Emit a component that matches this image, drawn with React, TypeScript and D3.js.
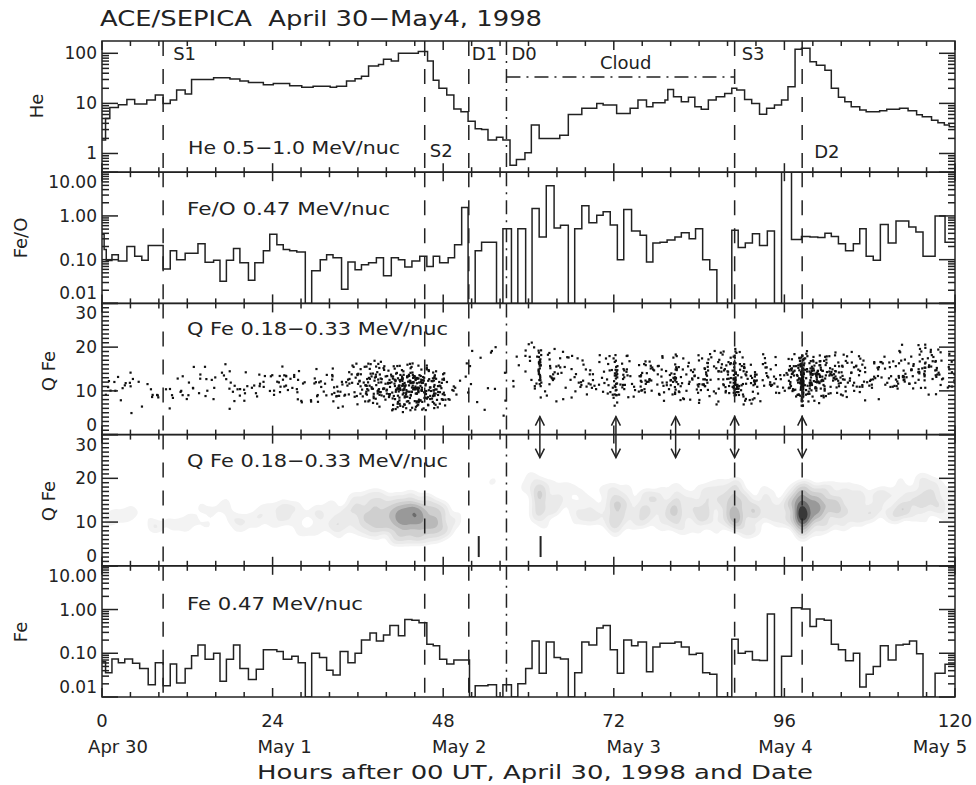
import React from 'react';
import * as d3 from 'd3';

const W = 976, H = 785;
const X0 = 102, X1 = 955;
const TOP = 41, PH = 131.2;
const FONT = 'DejaVu Sans, Verdana, sans-serif';
const INK = '#222';

// He 0.5-1.0 MeV/nuc : [hour where step starts, value]
const heSteps: [number, number][] = [[0,1.85],[0.5,5.0],[1.1,8.3],[2.3,9.4],[3.5,12],[4.6,9.7],[6.3,11.7],[7.5,14.7],[8.6,10],[9.6,11.7],[10.5,18.5],[11.7,15.4],[12.6,30],[15.7,32.6],[18,30.7],[19.4,28],[20.6,26],[22.7,23.6],[24.1,25],[26.4,22.5],[28.1,21],[29.7,22],[32.1,21],[33,22],[34.4,28],[35.6,31],[36.5,35],[37.5,56],[38.9,60],[39.6,76],[40.7,70],[41.7,100],[44.5,108],[45.8,70],[46.6,29],[47.4,20],[48.5,14.7],[49.5,7.7],[50.5,6.8],[51.5,4.4],[52.5,3.1],[53.4,3.0],[54.3,1.85],[55.5,2.1],[56.4,1.85],[57.4,0.58],[58.3,0.76],[59.5,1.03],[60.4,3.7],[61.5,2.0],[64.4,2.3],[65.6,6.0],[67.5,8.0],[69.6,10],[70.5,9.3],[72.4,6.3],[74.3,8],[75.4,11.7],[76.6,8.6],[77.5,10.3],[79.2,11.7],[79.6,19],[80.4,13.5],[81.5,10.8],[82.5,13.2],[83.4,8.6],[84.3,7.6],[85.3,11.7],[86.4,13.5],[87.6,15.8],[88.6,20],[89.3,18.5],[90.4,12],[91.4,10],[92.5,6.1],[93.5,8],[94.6,9.3],[95.6,11.7],[96.5,21.5],[97.5,120],[98.4,126],[99.6,68],[100.5,58],[101.7,46],[102.6,20],[103.6,13.2],[104.5,10.8],[105.4,8.6],[106.6,7.4],[107.5,6.8],[109.4,7.1],[110.4,7.6],[112.2,8],[113.4,7.1],[114.6,5.9],[115.4,5.4],[116.7,4.6],[117.6,4.1],[118.5,3.7],[119.2,3.4]];

// Fe/O 0.47 MeV/nuc (0 = no data, drawn to the floor)
const feoSteps: [number, number][] = [[0,0.38],[0.3,0.17],[0.6,0.096],[1.4,0.13],[2.3,0.093],[3.5,0.2],[4.6,0.12],[5.6,0.097],[6.5,0.21],[8.6,0.061],[9.6,0.16],[10.5,0.1],[11.7,0.14],[13.5,0.23],[14.5,0.087],[15.7,0.097],[16.6,0.032],[17.5,0.097],[18.5,0.18],[19.4,0.085],[20.6,0.034],[21.5,0.085],[22.7,0.16],[23.6,0.38],[24.6,0.22],[25.5,0.17],[26.4,0.16],[27.4,0.15],[28.6,0],[29.5,0.056],[30.7,0.1],[31.6,0.13],[32.5,0.11],[33.7,0.021],[34.6,0.089],[35.6,0.059],[36.5,0.077],[37.5,0.085],[38.6,0.11],[39.6,0.043],[40.7,0.11],[41.7,0.1],[42.6,0.068],[43.6,0.093],[44.7,0.12],[45.7,0.07],[46.6,0.12],[47.5,0.085],[48.7,0.11],[49.6,0.22],[50.6,1.55],[51.5,0],[52.5,0.16],[53.4,0.25],[55.5,0],[56.4,0.51],[57.6,0],[58.5,0.51],[59.6,0],[60.5,1.47],[61.5,0.33],[62.5,4.9],[63.6,0.53],[64.5,0.61],[65.6,0],[66.5,0.51],[67.5,1.7],[68.5,0.7],[69.6,1.03],[70.5,1.24],[71.5,0.62],[72.5,0.1],[73.4,1.41],[74.5,0.45],[75.7,0.36],[76.6,0.089],[77.5,0.24],[78.5,0.25],[79.5,0.28],[80.6,0.33],[81.5,0.41],[82.6,0.3],[83.5,0.51],[84.5,0.1],[85.5,0.059],[86.5,0],[88.6,0.47],[89.5,0.19],[90.5,0.24],[91.5,0.39],[92.5,0.21],[93.6,0.45],[94.6,0],[95.6,20],[97,0.29],[98.4,0.34],[99.6,0.33],[100.7,0.32],[101.7,0.4],[102.6,0.34],[103.6,0.23],[104.6,0.16],[105.7,0.23],[106.6,0.51],[107.5,0.12],[108.5,0.097],[109.5,0.64],[110.6,0.24],[111.7,0.77],[113.5,0.56],[114.5,0.43],[115.5,0.12],[117.2,1.0],[118.6,0.25]];

// Fe 0.47 MeV/nuc
const feSteps: [number, number][] = [[0,0.064],[0.5,0.036],[1.4,0.074],[2.3,0.061],[3.2,0.074],[4.3,0.059],[5.3,0.045],[6.5,0.019],[7.5,0.061],[8.6,0.018],[9.6,0.057],[10.5,0.021],[11.7,0.045],[12.6,0.088],[13.5,0.155],[14.5,0.073],[15.7,0.1],[16.6,0.023],[17.5,0.073],[18.5,0.155],[19.4,0.045],[20.6,0.025],[21.7,0.043],[22.7,0.12],[24.6,0.11],[25.5,0.073],[26.7,0.085],[27.6,0.061],[28.6,0],[29.5,0.1],[30.6,0.08],[31.6,0.041],[32.5,0.032],[33.5,0.11],[34.6,0.061],[35.6,0.1],[36.5,0.2],[37.7,0.29],[38.6,0.19],[39.6,0.26],[40.5,0.43],[41.7,0.25],[42.6,0.59],[43.6,0.57],[44.6,0.5],[45.7,0.16],[46.6,0.148],[47.5,0.073],[48.5,0.057],[49.5,0.07],[51.7,0],[52.5,0.018],[54.3,0.019],[55.5,0],[56.4,0.019],[57.6,0],[58.5,0.02],[59.6,0.045],[60.5,0.19],[61.5,0.035],[62.5,0.18],[63.6,0.08],[64.5,0.074],[65.6,0],[66.5,0.036],[67.5,0.18],[68.5,0.155],[69.6,0.38],[70.5,0.43],[71.5,0.12],[72.5,0.035],[73.4,0.2],[74.5,0.148],[75.4,0.18],[76.6,0.038],[77.5,0.14],[78.5,0.17],[80.6,0.18],[81.5,0.14],[82.6,0.094],[83.6,0.1],[84.5,0.036],[85.5,0.033],[86.5,0],[88.6,0.21],[89.5,0.1],[90.5,0.11],[91.5,0.07],[92.5,0.068],[93.6,0.79],[94.6,0],[95.6,0.085],[97,1.1],[98.4,1.03],[99.6,0.41],[100.5,0.61],[101.6,0.57],[102.6,0.16],[103.6,0.12],[104.6,0.067],[105.7,0.1],[106.6,0.017],[107.5,0.033],[108.5,0.05],[109.5,0.148],[110.6,0.07],[111.7,0.155],[112.7,0.16],[113.6,0.19],[114.6,0.097],[115.5,0],[117.2,0.035],[118.6,0.056]];

// Q Fe 0.18-0.33 MeV/nuc : per 2-hour bin, number of ions, mean charge, spread
const qCount = [6,6,6,7,5,6,8,8,7,8,8,9, 14,10,8,12,18,22,35,45,65,80,75,50, 15,6,4,5,5,5,12,18,12,14,14,18, 20,18,20,22,22,22,28,30,35,35,18,15, 40,80,65,35,25,20,18,18,25,30,25,15];
const qMean = [10,10,9.5,10.5,10,10.5,10.5,11,11,11,10.5,11.5, 12,12,11,11,11,11.5,11.5,11.5,11,10.8,10.8,10.5, 11,12,14,13,14,16,15,14,13.5,13,12.5,12.5, 12.5,12.5,13,13,13,13,13,13,13,12.5,13,13, 13,13,13,13,13,13,13.5,14,15,15,15,15];
const qSd = [2,2.5,2.5,2.5,3,2.5,2.5,2.5,2.5,2.5,2.5,2.5, 2.2,2.5,2.5,2.5,2.5,2.5,2.5,2.7,2.8,2.8,2.8,2.4, 2.5,4,6,5,5,5,4,3.5,3,3,3,3, 3,3,3,3,3,3,3,3,3.2,3,3,3, 3.2,3,3,3,3,3,3,3,3,3,3,3];
// dense vertical columns of ions (at the arrowed hours)
const colHours = [61.6, 72.3, 80.7, 89.0, 98.5];
const colCount = [28, 24, 14, 30, 60];
const colMean = [15.5, 12.5, 13, 13.5, 12.5];
const colSd = [3.5, 2.8, 3, 3, 3];

const eventNames = ['S1', 'S2', 'D1', 'D0', 'S3', 'D2'];
const eventHours = [8.6, 45.4, 51.6, 56.9, 89.0, 98.5];
const arrowHours = [61.6, 72.3, 80.7, 89.0, 98.5];
const markHours = [53.0, 61.7];
const cloudHours = [56.9, 89.0];
const xLabelHours = [0, 24, 48, 72, 96, 120];
const dateLabels = ['Apr 30', 'May 1', 'May 2', 'May 3', 'May 4', 'May 5'];
const heLabelVals = [1, 10, 100];
const ratioLabelVals = [0.01, 0.1, 1, 10];
const qLabelVals = [0, 10, 20, 30];

// layout (pixels)
const eventLabelDx = [10, 5, 3, 5, 7, 12];
const eventLabelY = [60, 157, 60, 60, 60, 158];
const dateDx = [16, 12, 16, 20, 1, -15];

function probit(p: number) {
  const a = 0.147;
  const x = 2 * p - 1;
  const ln = Math.log(1 - x * x);
  const t = 2 / (Math.PI * a) + ln / 2;
  return Math.SQRT2 * Math.sign(x) * Math.sqrt(Math.sqrt(t * t - ln / a) - t);
}

// deterministic position hash used to place each ion inside its bin
function hash01(n: number) {
  let x = Math.imul(n ^ 0x9e3779b9, 0x85ebca6b);
  x ^= x >>> 13;
  x = Math.imul(x, 0xc2b2ae35);
  x ^= x >>> 16;
  return (x >>> 0) / 4294967296;
}

type QP = { h: number; q: number };
const qPoints: QP[] = [];
let ionIndex = 0;
const place = (h0: number, width: number, mean: number, sd: number) => {
  ionIndex++;
  const fx = hash01(ionIndex * 2 + 17);
  const fy = hash01(ionIndex * 2 + 18);
  const q = mean + sd * probit(0.02 + 0.96 * fy);
  qPoints.push({ h: h0 + width * fx, q: Math.max(0.5, Math.min(29.5, q)) });
};
qCount.forEach((n, i) => {
  for (let j = 0; j < n; j++) place(2 * i, 2, qMean[i], qSd[i]);
});
colHours.forEach((h, i) => {
  for (let j = 0; j < colCount[i]; j++) place(h - 0.2, 0.4, colMean[i], colSd[i]);
});

export default function App() {
  const xS = d3.scaleLinear([0, 120], [X0, X1]);
  const pTop = (i: number) => TOP + i * PH;
  const yHe = d3.scaleLog([0.423, 176], [pTop(0) + PH, pTop(0)]);
  const yFeO = d3.scaleLog([0.01, 10], [pTop(1) + PH, pTop(1)]);
  const yQ3 = d3.scaleLinear([0, 30], [pTop(2) + PH, pTop(2)]);
  const yQ4 = d3.scaleLinear([0, 30], [pTop(3) + PH, pTop(3)]);
  const yFe = d3.scaleLog([0.01, 10], [pTop(4) + PH, pTop(4)]);

  const stepPath = (steps: [number, number][], y: any) => {
    const [lo, hi] = y.domain();
    const pts: [number, number][] = [...steps, [120, steps[steps.length - 1][1]]];
    return d3.line<[number, number]>()
      .x(d => xS(d[0]))
      .y(d => y(Math.min(hi, Math.max(lo, d[1]))))
      .curve(d3.curveStepAfter)(pts) || '';
  };

  const xTicks = (i: number) => {
    const t = pTop(i), b = t + PH;
    const out: JSX.Element[] = [];
    for (let h = 0; h <= 120; h += 4) {
      const len = h % 24 === 0 ? 9 : 5;
      const x = xS(h);
      out.push(<line key={'t' + h} x1={x} x2={x} y1={t} y2={t + len} />);
      out.push(<line key={'b' + h} x1={x} x2={x} y1={b} y2={b - len} />);
    }
    return out;
  };

  const logTicks = (y: any, key: string) => {
    const [lo, hi] = y.domain();
    const out: JSX.Element[] = [];
    for (let e = Math.floor(Math.log10(lo)); e <= Math.ceil(Math.log10(hi)); e++) {
      for (let m = 1; m <= 9; m++) {
        const v = m * Math.pow(10, e);
        if (v < lo * 0.999 || v > hi * 1.001) continue;
        const len = m === 1 ? 16 : 7;
        const yy = y(v);
        out.push(<line key={key + 'l' + e + m} x1={X0} x2={X0 + len} y1={yy} y2={yy} />);
        out.push(<line key={key + 'r' + e + m} x1={X1} x2={X1 - len} y1={yy} y2={yy} />);
      }
    }
    return out;
  };

  const linTicks = (y: any, key: string) => {
    const out: JSX.Element[] = [];
    for (let v = 0; v <= 30; v++) {
      const len = v % 10 === 0 ? 16 : 7;
      const yy = y(v);
      out.push(<line key={key + 'l' + v} x1={X0} x2={X0 + len} y1={yy} y2={yy} />);
      out.push(<line key={key + 'r' + v} x1={X1} x2={X1 - len} y1={yy} y2={yy} />);
    }
    return out;
  };

  const yLabels = (y: any, vals: number[], fmt: (v: number) => string, i: number, key: string) =>
    vals.map(v => {
      const t = pTop(i), b = t + PH;
      const yy = Math.max(t + 10, Math.min(b - 10, y(v)));
      return (
        <text key={key + v} x={97} y={yy} textAnchor="end" dominantBaseline="central" fontSize={17}>
          {fmt(v)}
        </text>
      );
    });

  // density (panel 4) from the same ions
  const p4 = pTop(3);
  const dens = d3.contourDensity<QP>()
    .x(d => xS(d.h) - X0)
    .y(d => yQ4(d.q) - p4)
    .size([Math.round(X1 - X0), Math.round(PH)])
    .cellSize(2)
    .bandwidth(4);
  const probe = dens.thresholds(80)(qPoints);
  const maxD = d3.max(probe, c => c.value) || 1;
  const fracs = [0.05, 0.1, 0.17, 0.26, 0.37, 0.5, 0.65, 0.82];
  const greys = ['#f3f3f3', '#eaeaea', '#dedede', '#cfcfcf', '#b9b9b9', '#999999', '#6c6c6c', '#383838'];
  const contours = dens.thresholds(fracs.map(f => f * maxD))(qPoints);
  const geo = d3.geoPath();

  const dash = '15,13';
  const dashDot = '14,6,2,6';

  return (
    <svg width={W} height={H} style={{ position: 'absolute', left: 0, top: 0, background: '#fff' }}
      fontFamily={FONT} fill={INK}>
      <defs>
        {[0, 1, 2, 3, 4].map(i => (
          <clipPath key={i} id={'clip' + i}>
            <rect x={X0} y={pTop(i)} width={X1 - X0} height={PH} />
          </clipPath>
        ))}
      </defs>
      <rect x={0} y={0} width={W} height={H} fill="#fff" />

      {/* title */}
      <text x={100} y={26} fontSize={22} textLength={442} lengthAdjust="spacingAndGlyphs" style={{ whiteSpace: 'pre' }}>
        {'ACE/SEPICA  April 30\u2212May4, 1998'}
      </text>

      {/* density contours */}
      <g clipPath="url(#clip3)">
        <g transform={`translate(${X0},${p4})`}>
          {contours.map((c, k) => (
            <path key={k} d={geo(c) || ''} fill={greys[k]} stroke="none" />
          ))}
        </g>
      </g>

      {/* scatter */}
      <g clipPath="url(#clip2)" fill="#111">
        {qPoints.map((p, k) => (
          <rect key={k} x={xS(p.h) - 1} y={yQ3(p.q) - 1} width={2.2} height={2.2} />
        ))}
      </g>

      {/* histograms */}
      <g fill="none" stroke={INK} strokeWidth={1.5}>
        <path d={stepPath(heSteps, yHe)} clipPath="url(#clip0)" />
        <path d={stepPath(feoSteps, yFeO)} clipPath="url(#clip1)" />
        <path d={stepPath(feSteps, yFe)} clipPath="url(#clip4)" />
      </g>

      {/* event lines */}
      <g stroke={INK} strokeWidth={1.5} fill="none">
        {eventHours.map((h, k) =>
          [0, 1, 2, 3, 4].map(i => (
            <line key={k + '-' + i} x1={xS(h)} x2={xS(h)} y1={pTop(i)} y2={pTop(i) + PH}
              strokeDasharray={eventNames[k] === 'D0' ? dashDot : dash} />
          ))
        )}
        <line x1={xS(cloudHours[0])} x2={xS(cloudHours[1])} y1={77} y2={77} strokeDasharray={dashDot} />
        {markHours.map((h, k) => (
          <line key={'m' + k} x1={xS(h)} x2={xS(h)} y1={yQ4(6.8)} y2={yQ4(2)} strokeWidth={2} />
        ))}
        {arrowHours.map((h, k) => {
          const x = xS(h);
          const b3 = pTop(3);
          return (
            <g key={'a' + k}>
              <line x1={x} x2={x} y1={b3} y2={b3 - 18} />
              <polyline points={`${x - 4.5},${b3 - 9} ${x},${b3 - 18} ${x + 4.5},${b3 - 9}`} />
              <line x1={x} x2={x} y1={b3} y2={b3 + 23} />
              <polyline points={`${x - 4.5},${b3 + 14} ${x},${b3 + 23} ${x + 4.5},${b3 + 14}`} />
            </g>
          );
        })}
      </g>

      {/* event labels */}
      {eventNames.map((n, k) => (
        <text key={n} x={xS(eventHours[k]) + eventLabelDx[k]} y={eventLabelY[k]} fontSize={18}>{n}</text>
      ))}
      <text x={600} y={69} fontSize={18}>Cloud</text>

      {/* frames and ticks */}
      <g stroke={INK} strokeWidth={1.5} fill="none">
        {[0, 1, 2, 3, 4].map(i => (
          <rect key={'f' + i} x={X0} y={pTop(i)} width={X1 - X0} height={PH} />
        ))}
        {[0, 1, 2, 3, 4].map(i => <g key={'xt' + i}>{xTicks(i)}</g>)}
        {logTicks(yHe, 'he')}
        {logTicks(yFeO, 'fo')}
        {linTicks(yQ3, 'q3')}
        {linTicks(yQ4, 'q4')}
        {logTicks(yFe, 'fe')}
      </g>

      {/* y tick labels */}
      {yLabels(yHe, heLabelVals, v => String(v), 0, 'he')}
      {yLabels(yFeO, ratioLabelVals, v => v.toFixed(2), 1, 'fo')}
      {yLabels(yQ3, qLabelVals, v => String(v), 2, 'q3')}
      {yLabels(yQ4, qLabelVals, v => String(v), 3, 'q4')}
      {yLabels(yFe, ratioLabelVals, v => v.toFixed(2), 4, 'fe')}

      {/* y titles */}
      <text transform="translate(43,106) rotate(-90)" textAnchor="middle" fontSize={18}>He</text>
      <text transform="translate(27,238) rotate(-90)" textAnchor="middle" fontSize={18}>Fe/O</text>
      <text transform="translate(55,371) rotate(-90)" textAnchor="middle" fontSize={18}>Q Fe</text>
      <text transform="translate(55,501) rotate(-90)" textAnchor="middle" fontSize={18}>Q Fe</text>
      <text transform="translate(27,632) rotate(-90)" textAnchor="middle" fontSize={18}>Fe</text>

      {/* panel labels */}
      <text x={188} y={154} fontSize={18} textLength={212} lengthAdjust="spacingAndGlyphs">{'He 0.5\u22121.0 MeV/nuc'}</text>
      <text x={187} y={215} fontSize={18} textLength={203} lengthAdjust="spacingAndGlyphs">Fe/O 0.47 MeV/nuc</text>
      <text x={187} y={335} fontSize={18} textLength={261} lengthAdjust="spacingAndGlyphs">{'Q Fe 0.18\u22120.33 MeV/nuc'}</text>
      <text x={187} y={467} fontSize={18} textLength={261} lengthAdjust="spacingAndGlyphs">{'Q Fe 0.18\u22120.33 MeV/nuc'}</text>
      <text x={187} y={610} fontSize={18} textLength={176} lengthAdjust="spacingAndGlyphs">Fe 0.47 MeV/nuc</text>

      {/* x axis labels */}
      {xLabelHours.map((h, k) => (
        <g key={'xl' + h}>
          <text x={xS(h)} y={727} textAnchor="middle" fontSize={18}>{h}</text>
          <text x={xS(h) + dateDx[k]} y={753} textAnchor="middle" fontSize={18}>{dateLabels[k]}</text>
        </g>
      ))}
      <text x={257} y={779} fontSize={20} textLength={556} lengthAdjust="spacingAndGlyphs">
        Hours after 00 UT, April 30, 1998 and Date
      </text>
    </svg>
  );
}
